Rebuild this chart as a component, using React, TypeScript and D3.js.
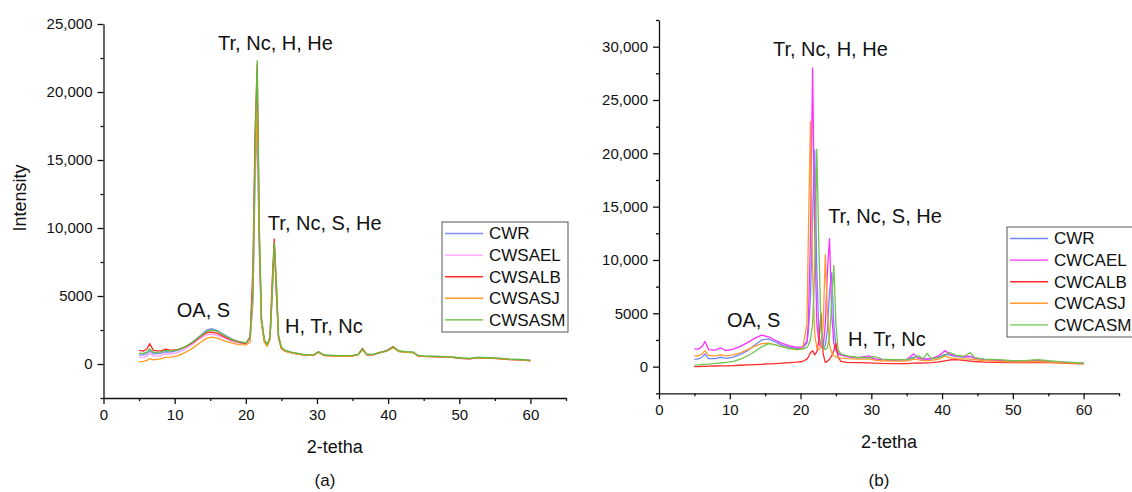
import * as d3 from "d3";
import { useEffect, useRef } from "react";

// 2-theta grid and intensities, panel (a)
const thetaA = [5, 5.6, 6.1, 6.5, 7, 8, 8.7, 9.5, 10.5, 11.5, 12.5, 13.5, 14.5, 15.2, 16, 17, 18, 19, 20, 20.6,
  21, 21.3, 21.6, 21.9, 22.2, 22.6, 23, 23.4, 23.7, 24, 24.3, 24.6, 25, 25.5, 26.5, 28, 29.5, 30.2, 31, 33,
  35, 35.8, 36.4, 37, 38, 39, 39.8, 40.7, 41.5, 42.5, 43.5, 44.2, 45, 47, 49, 50.5, 51.5, 52.5, 54, 55.5, 57, 58.5, 60];

const cwrA = [650, 680, 750, 950, 750, 780, 900, 880, 1000, 1250, 1600, 2050, 2500, 2600, 2450, 2150, 1850, 1650, 1550, 1800,
  4500, 13500, 17800, 8000, 3000, 1700, 1400, 1800, 5000, 8800, 5500, 2000, 1200, 1000, 850, 700, 650, 900, 650, 600,
  620, 700, 1100, 700, 700, 850, 950, 1250, 950, 880, 860, 620, 580, 550, 500, 430, 400, 480, 450, 420, 350, 320, 260];
const cwsaelA = [480, 500, 580, 800, 580, 620, 750, 720, 850, 1100, 1450, 1850, 2150, 2200, 2100, 1900, 1700, 1550, 1480, 1800,
  6000, 15000, 20000, 9000, 3200, 1700, 1400, 1900, 5500, 8900, 5000, 1900, 1150, 950, 820, 680, 630, 850, 630, 580,
  600, 680, 1050, 680, 680, 850, 950, 1200, 920, 860, 840, 600, 560, 540, 480, 420, 390, 460, 440, 400, 340, 300, 250];
const cwsalbA = [1000, 950, 1100, 1500, 1000, 950, 1100, 1000, 1080, 1250, 1550, 1950, 2300, 2350, 2250, 2000, 1750, 1600, 1520, 2000,
  7000, 17000, 22000, 9500, 3300, 1700, 1350, 2000, 6000, 9200, 5200, 1900, 1150, 950, 820, 680, 630, 880, 640, 580,
  600, 700, 1150, 680, 700, 880, 980, 1280, 940, 880, 860, 600, 560, 530, 480, 400, 380, 470, 430, 400, 330, 300, 240];
const cwsasjA = [160, 200, 260, 400, 300, 380, 480, 500, 620, 850, 1150, 1550, 1900, 1980, 1900, 1700, 1550, 1420, 1400, 1600,
  5000, 14500, 18500, 9000, 3000, 1600, 1300, 1800, 5200, 8700, 5800, 2000, 1150, 950, 800, 670, 620, 850, 620, 570,
  590, 680, 1050, 670, 680, 850, 950, 1200, 920, 860, 840, 600, 560, 530, 480, 410, 390, 460, 430, 400, 340, 300, 250];
const cwsasmA = [780, 800, 870, 1100, 850, 880, 1000, 950, 1050, 1280, 1600, 2000, 2400, 2500, 2400, 2100, 1800, 1650, 1560, 1900,
  5500, 16000, 22300, 10000, 3400, 1800, 1450, 1900, 5000, 8900, 6000, 2100, 1250, 1000, 860, 710, 660, 900, 660, 610,
  630, 710, 1100, 710, 720, 870, 970, 1250, 960, 900, 880, 630, 590, 560, 510, 440, 410, 490, 460, 430, 360, 330, 270];

// panel (b)
const thetaB = [5, 5.6, 6.1, 6.5, 7, 8, 8.7, 9.5, 10.5, 11.5, 12.5, 13.5, 14.5, 15.5, 16.5, 17.5, 18.5, 19.5, 20.3, 20.9,
  21.1, 21.4, 21.7, 22, 22.3, 22.6, 22.9, 23.2, 23.5, 23.8, 24.1, 24.4, 24.7, 25, 25.3, 25.7, 26.5, 28, 29.8, 30.5,
  31.5, 33, 35, 36, 36.6, 37.3, 37.9, 38.5, 39.5, 40.4, 41, 42, 43, 44, 44.6, 46, 48, 50, 52, 53.5, 55, 57, 58.5, 60];

const cwrB = [690, 720, 900, 1200, 750, 760, 880, 780, 900, 1150, 1500, 2000, 2500, 2600, 2300, 2000, 1800, 1700, 1750, 2200,
  3200, 6500, 14000, 20300, 9000, 3000, 1900, 1700, 2000, 3500, 7000, 8800, 4000, 1800, 1300, 1100, 950, 820, 850, 720,
  650, 620, 650, 900, 850, 700, 750, 700, 900, 1150, 1100, 950, 900, 950, 800, 650, 600, 500, 520, 580, 500, 420, 380, 320];
const cwcaelB = [1650, 1650, 1900, 2350, 1600, 1550, 1750, 1500, 1650, 1900, 2250, 2650, 2950, 2800, 2450, 2150, 1950, 1800, 1850, 2400,
  4000, 12000, 28000, 13000, 4000, 2200, 1800, 1900, 4000, 9000, 12000, 5000, 2200, 1500, 1200, 1100, 950, 850, 1000, 700,
  650, 620, 650, 1200, 800, 700, 700, 750, 1000, 1500, 1200, 1000, 950, 950, 800, 650, 600, 500, 520, 560, 480, 400, 350, 300];
const cwcalbB = [0, 10, 20, 30, 40, 60, 70, 80, 100, 130, 160, 190, 220, 250, 290, 330, 370, 420, 480, 700,
  900, 1300, 1500, 1100, 1400, 2500, 5000, 1200, 400, 500, 700, 1000, 1500, 2200, 900, 500, 400, 380, 350, 330,
  300, 280, 280, 320, 350, 330, 360, 380, 450, 550, 620, 650, 580, 520, 480, 420, 400, 370, 380, 400, 380, 320, 280, 250];
const cwcasjB = [1000, 1020, 1200, 1500, 1050, 1000, 1100, 1000, 1100, 1300, 1600, 1900, 2150, 2200, 2050, 1850, 1700, 1600, 1700, 4000,
  12000, 23000, 9000, 3000, 1800, 1600, 1800, 4000, 10500, 5000, 2000, 1300, 1000, 900, 850, 800, 750, 700, 700, 600,
  550, 520, 520, 700, 650, 560, 560, 580, 700, 1000, 850, 750, 720, 700, 650, 550, 500, 430, 450, 480, 420, 360, 320, 280];
const cwcasmB = [150, 170, 200, 220, 240, 300, 340, 400, 500, 700, 1000, 1400, 1850, 2150, 2050, 1850, 1700, 1600, 1650, 1800,
  2000, 2500, 4000, 9000, 20400, 11000, 3500, 1800, 1600, 1800, 2800, 6000, 9500, 4000, 1600, 1200, 1000, 880, 850, 950,
  700, 650, 650, 800, 1050, 750, 1250, 750, 850, 1050, 1350, 1050, 950, 1300, 850, 700, 650, 550, 580, 650, 550, 450, 400, 340];

const namesA = ["CWR", "CWSAEL", "CWSALB", "CWSASJ", "CWSASM"];
const namesB = ["CWR", "CWCAEL", "CWCALB", "CWCASJ", "CWCASM"];
const colorsA = ["#7f90ff", "#ff9cff", "#ff2a2a", "#ff9a1e", "#62bb38"];
const colorsB = ["#7285ff", "#ff2eff", "#ff2a2a", "#ff9a2e", "#72c450"];

// peak labels: [text, 2-theta, intensity]
const peaksA: [string, number, number][] = [["Tr, Nc, H, He", 16.1, 23600], ["Tr, Nc, S, He", 23.1, 10400], ["OA, S", 10.3, 4000], ["H, Tr, Nc", 25.5, 2800]];
const peaksB: [string, number, number][] = [["Tr, Nc, H, He", 16.1, 29800], ["Tr, Nc, S, He", 23.9, 14100], ["OA, S", 9.6, 4400], ["H, Tr, Nc", 26.7, 2600]];

const FONT = "'Liberation Sans', Arial, sans-serif";

const fmtTick = (v: number) => (v >= 10000 ? d3.format(",")(v) : String(v));

function drawPanel(svg: any, cfg: any) {
  const x = d3.scaleLinear().domain([0, 65]).range(cfg.xRange);
  const y = d3.scaleLinear().domain(cfg.yDomain).range(cfg.yRange);
  const g = svg.append("g");
  const bottom = cfg.yRange[0];
  const left = cfg.xRange[0];

  // lines
  const line = d3.line<number>()
    .x((_, i) => x(cfg.theta[i]))
    .y((d) => y(d));
  cfg.series.forEach((s: number[], k: number) => {
    g.append("path")
      .attr("d", line(s))
      .attr("fill", "none")
      .attr("stroke", cfg.colors[k])
      .attr("stroke-width", 1.3)
      .attr("stroke-linejoin", "round");
  });

  // axes
  const styleAxis = (sel: any) => {
    sel.selectAll("path, line").attr("stroke", "#111").attr("stroke-width", 1.3);
    sel.selectAll("text").attr("font-family", FONT).attr("font-size", 15).attr("fill", "#111");
  };

  g.append("g")
    .attr("transform", `translate(0,${bottom})`)
    .call(d3.axisBottom(x).tickValues(d3.range(0, 61, 10)).tickSize(6).tickSizeOuter(0).tickPadding(5).tickFormat(d3.format("d")))
    .call(styleAxis);
  g.append("g")
    .attr("transform", `translate(0,${bottom})`)
    .call(d3.axisBottom(x).tickValues(d3.range(5, 66, 10)).tickSize(3).tickFormat(() => ""))
    .call((s: any) => s.select(".domain").remove())
    .call(styleAxis);

  const top = cfg.yDomain[1];
  g.append("g")
    .attr("transform", `translate(${left},0)`)
    .call(d3.axisLeft(y).tickValues(d3.range(0, top + 1, 5000)).tickSize(6).tickSizeOuter(0).tickPadding(5).tickFormat(fmtTick as any))
    .call(styleAxis);
  g.append("g")
    .attr("transform", `translate(${left},0)`)
    .call(d3.axisLeft(y).tickValues(d3.range(-2500, top + 1, 5000)).tickSize(3).tickFormat(() => ""))
    .call((s: any) => s.select(".domain").remove())
    .call(styleAxis);

  // axis titles
  g.append("text")
    .attr("x", (cfg.xRange[0] + cfg.xRange[1]) / 2)
    .attr("y", cfg.titleY)
    .attr("dy", "0.35em")
    .attr("text-anchor", "middle")
    .attr("font-family", FONT).attr("font-size", 18).attr("fill", "#111")
    .text("2-tetha");
  if (cfg.yTitle) {
    g.append("text")
      .attr("transform", `translate(20,198) rotate(-90)`)
      .attr("dy", "0.35em")
      .attr("text-anchor", "middle")
      .attr("font-family", FONT).attr("font-size", 18).attr("fill", "#111")
      .text(cfg.yTitle);
  }
  g.append("text")
    .attr("x", cfg.captionX)
    .attr("y", cfg.captionY)
    .attr("dy", "0.35em")
    .attr("text-anchor", "middle")
    .attr("font-family", FONT).attr("font-size", 17).attr("fill", "#111")
    .text(cfg.caption);

  // peak annotations
  cfg.peaks.forEach(([t, px, py]: [string, number, number]) => {
    g.append("text")
      .attr("x", x(px))
      .attr("y", y(py))
      .attr("dy", "0.35em")
      .attr("font-family", FONT).attr("font-size", 20).attr("fill", "#111")
      .text(t);
  });

  // legend
  const lg = g.append("g").attr("transform", `translate(${cfg.legend[0]},${cfg.legend[1]})`);
  lg.append("rect")
    .attr("width", 126).attr("height", 110)
    .attr("fill", "#fff").attr("stroke", "#555").attr("stroke-width", 1);
  cfg.names.forEach((n: string, k: number) => {
    const ly = 11.5 + k * 21.6;
    lg.append("line")
      .attr("x1", 3).attr("x2", 41).attr("y1", ly).attr("y2", ly)
      .attr("stroke", cfg.colors[k]).attr("stroke-width", 1.4);
    lg.append("text")
      .attr("x", 47).attr("y", ly).attr("dy", "0.35em")
      .attr("font-family", FONT).attr("font-size", 17).attr("fill", "#111")
      .text(n);
  });
}

export default function App() {
  const ref = useRef<SVGSVGElement>(null);

  useEffect(() => {
    const svg = d3.select(ref.current);
    svg.selectAll("*").remove();
    drawPanel(svg, {
      theta: thetaA,
      series: [cwrA, cwsaelA, cwsalbA, cwsasjA, cwsasmA],
      names: namesA,
      colors: colorsA,
      peaks: peaksA,
      xRange: [103.5, 566],
      yDomain: [-2500, 25000],
      yRange: [398, 24],
      titleY: 447,
      yTitle: "Intensity",
      caption: "(a)",
      captionX: 325,
      captionY: 480,
      legend: [442, 222],
    });
    drawPanel(svg, {
      theta: thetaB,
      series: [cwrB, cwcaelB, cwcalbB, cwcasjB, cwcasmB],
      names: namesB,
      colors: colorsB,
      peaks: peaksB,
      xRange: [659, 1119],
      yDomain: [-2500, 32500],
      yRange: [393.3, 20],
      titleY: 442,
      yTitle: null,
      caption: "(b)",
      captionX: 879,
      captionY: 480,
      legend: [1007, 227],
    });
  }, []);

  return (
    <svg ref={ref} width={1132} height={492}
      style={{ position: "absolute", left: 0, top: 0, background: "#fff" }} />
  );
}
